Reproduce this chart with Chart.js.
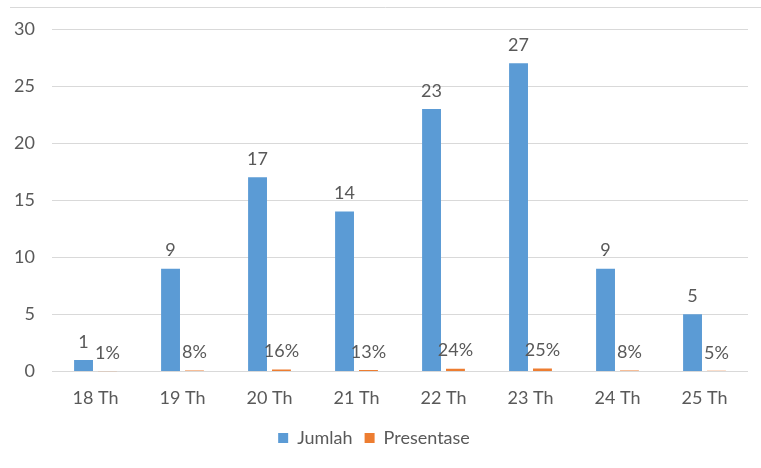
<!DOCTYPE html>
<html>
<head>
<meta charset="utf-8">
<script src="https://cdn.jsdelivr.net/npm/chart.js@4"></script>
<style>
  html, body { margin: 0; padding: 0; background: #ffffff; }
</style>
</head>
<body>
<canvas id="grafik" width="761" height="468"></canvas>
<script>
// ======== Data ========
const kategori = ['18 Th', '19 Th', '20 Th', '21 Th', '22 Th', '23 Th', '24 Th', '25 Th'];
const jumlah = [1, 9, 17, 14, 23, 27, 9, 5];
const presentase = [0.01, 0.08, 0.16, 0.13, 0.24, 0.25, 0.08, 0.05];
const tickY = [0, 5, 10, 15, 20, 25, 30];

const warnaTeks = '#595959';
const fontUtama = { family: 'Lato', size: 18 };

// Garis tipis di bagian atas (bingkai grafik)
const bingkaiAtas = {
  id: 'bingkaiAtas',
  beforeDraw(chart) {
    const ctx = chart.ctx;
    ctx.save();
    ctx.strokeStyle = '#d9d9d9';
    ctx.lineWidth = 1;
    ctx.beginPath();
    ctx.moveTo(10, 7.5);
    ctx.lineTo(chart.width, 7.5);
    ctx.stroke();
    ctx.restore();
  },
};

// Label nilai di atas setiap batang
const labelBatang = {
  id: 'labelBatang',
  afterDatasetsDraw(chart) {
    const ctx = chart.ctx;
    ctx.save();
    ctx.font = `${fontUtama.size}px ${fontUtama.family}`;
    ctx.fillStyle = warnaTeks;
    ctx.textAlign = 'center';
    ctx.textBaseline = 'bottom';
    chart.data.datasets.forEach((ds, i) => {
      chart.getDatasetMeta(i).data.forEach((bar, j) => {
        const nilai = ds.data[j];
        const teks = i === 0 ? String(nilai) : Math.round(nilai * 100) + '%';
        ctx.fillText(teks, bar.x, bar.y - 9);
      });
    });
    ctx.restore();
  },
};

new Chart(document.getElementById('grafik').getContext('2d'), {
  type: 'bar',
  data: {
    labels: kategori,
    datasets: [
      { label: 'Jumlah', data: jumlah, backgroundColor: '#5b9bd5' },
      { label: 'Presentase', data: presentase, backgroundColor: '#ed7d31' },
    ],
  },
  options: {
    responsive: false,
    animation: false,
    devicePixelRatio: 1,
    categoryPercentage: 0.55,
    barPercentage: 0.79,
    layout: { padding: { top: 29, right: 13, left: 0, bottom: 11 } },
    plugins: {
      tooltip: { enabled: false },
      legend: {
        position: 'bottom',
        labels: {
          boxWidth: 10,
          boxHeight: 10,
          color: warnaTeks,
          font: fontUtama,
          padding: 12,
        },
      },
    },
    scales: {
      x: {
        grid: { display: false },
        border: { display: false },
        ticks: { color: warnaTeks, font: fontUtama, padding: 8 },
      },
      y: {
        min: 0,
        max: 30,
        afterBuildTicks: (axis) => {
          axis.ticks = tickY.map((v) => ({ value: v }));
        },
        afterFit: (axis) => {
          axis.width = 52;
        },
        grid: { color: '#d9d9d9', drawTicks: false },
        border: { display: false },
        ticks: { color: warnaTeks, font: fontUtama, padding: 17 },
      },
    },
  },
  plugins: [bingkaiAtas, labelBatang],
});
</script>
</body>
</html>
